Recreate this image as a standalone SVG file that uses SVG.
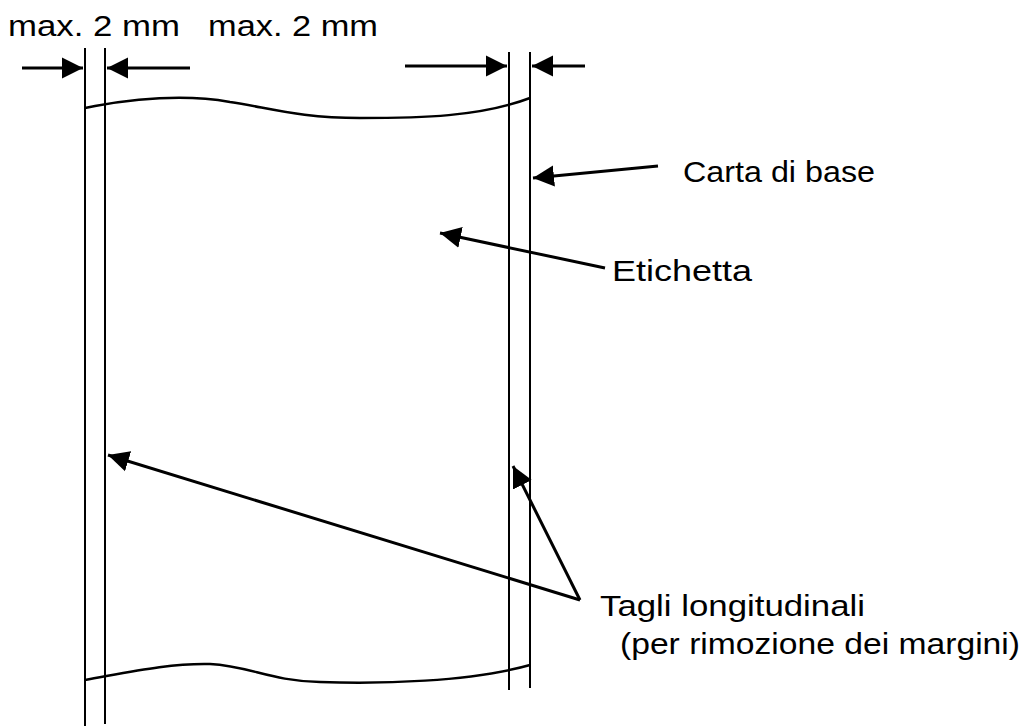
<svg xmlns="http://www.w3.org/2000/svg" width="1024" height="726" viewBox="0 0 1024 726">
<style>
.l{stroke:#000;stroke-width:2;fill:none}
.w{stroke:#000;stroke-width:2.5;fill:none}
.a{stroke:#000;stroke-width:3;fill:none;marker-end:url(#ah)}
text{font-family:"Liberation Sans",Arial,sans-serif;font-size:29px;fill:#000}
</style>
<defs><marker id="ah" markerWidth="8" markerHeight="8" refX="7" refY="4" orient="auto" markerUnits="strokeWidth"><path d="M0,0.5L7,4L0,7.5z" fill="#000"/></marker></defs>
<rect width="1024" height="726" fill="#fff"/>
<g id="paper">
<line class="l" x1="85" y1="48" x2="85" y2="726"/>
<line class="l" x1="105" y1="48" x2="105" y2="724"/>
<line class="l" x1="509" y1="52" x2="509" y2="690"/>
<line class="l" x1="530" y1="52" x2="530" y2="688"/>
<path class="w" d="M85,108 L95,106 C140,98 190,95 230,102 C270,108 300,118 360,118 C420,118 480,117 530,98"/>
<path class="w" d="M85,680 C130,672 170,663 210,664 C250,666 270,681 320,682 C380,684 470,682 530,665"/>
</g>
<g id="connectors">
<line class="a" x1="22" y1="68" x2="83" y2="68"/>
<line class="a" x1="190" y1="68" x2="107" y2="68"/>
<line class="a" x1="405" y1="66" x2="507" y2="66"/>
<line class="a" x1="585" y1="66" x2="532" y2="66"/>
<line class="a" x1="658" y1="166" x2="533" y2="178"/>
<line class="a" x1="605" y1="268" x2="440" y2="233"/>
<line class="a" x1="580" y1="600" x2="108" y2="455"/>
<line class="a" x1="580" y1="600" x2="513" y2="466"/>
</g>
<g id="labels">
<text x="8" y="36" textLength="172" lengthAdjust="spacingAndGlyphs">max. 2 mm</text>
<text x="208" y="36" textLength="170" lengthAdjust="spacingAndGlyphs">max. 2 mm</text>
<text x="683" y="182" textLength="192" lengthAdjust="spacingAndGlyphs">Carta di base</text>
<text x="612" y="281" textLength="140" lengthAdjust="spacingAndGlyphs">Etichetta</text>
<text x="600" y="616" textLength="265" lengthAdjust="spacingAndGlyphs">Tagli longitudinali</text>
<text x="620" y="654" textLength="400" lengthAdjust="spacingAndGlyphs">(per rimozione dei margini)</text>
</g>
</svg>
